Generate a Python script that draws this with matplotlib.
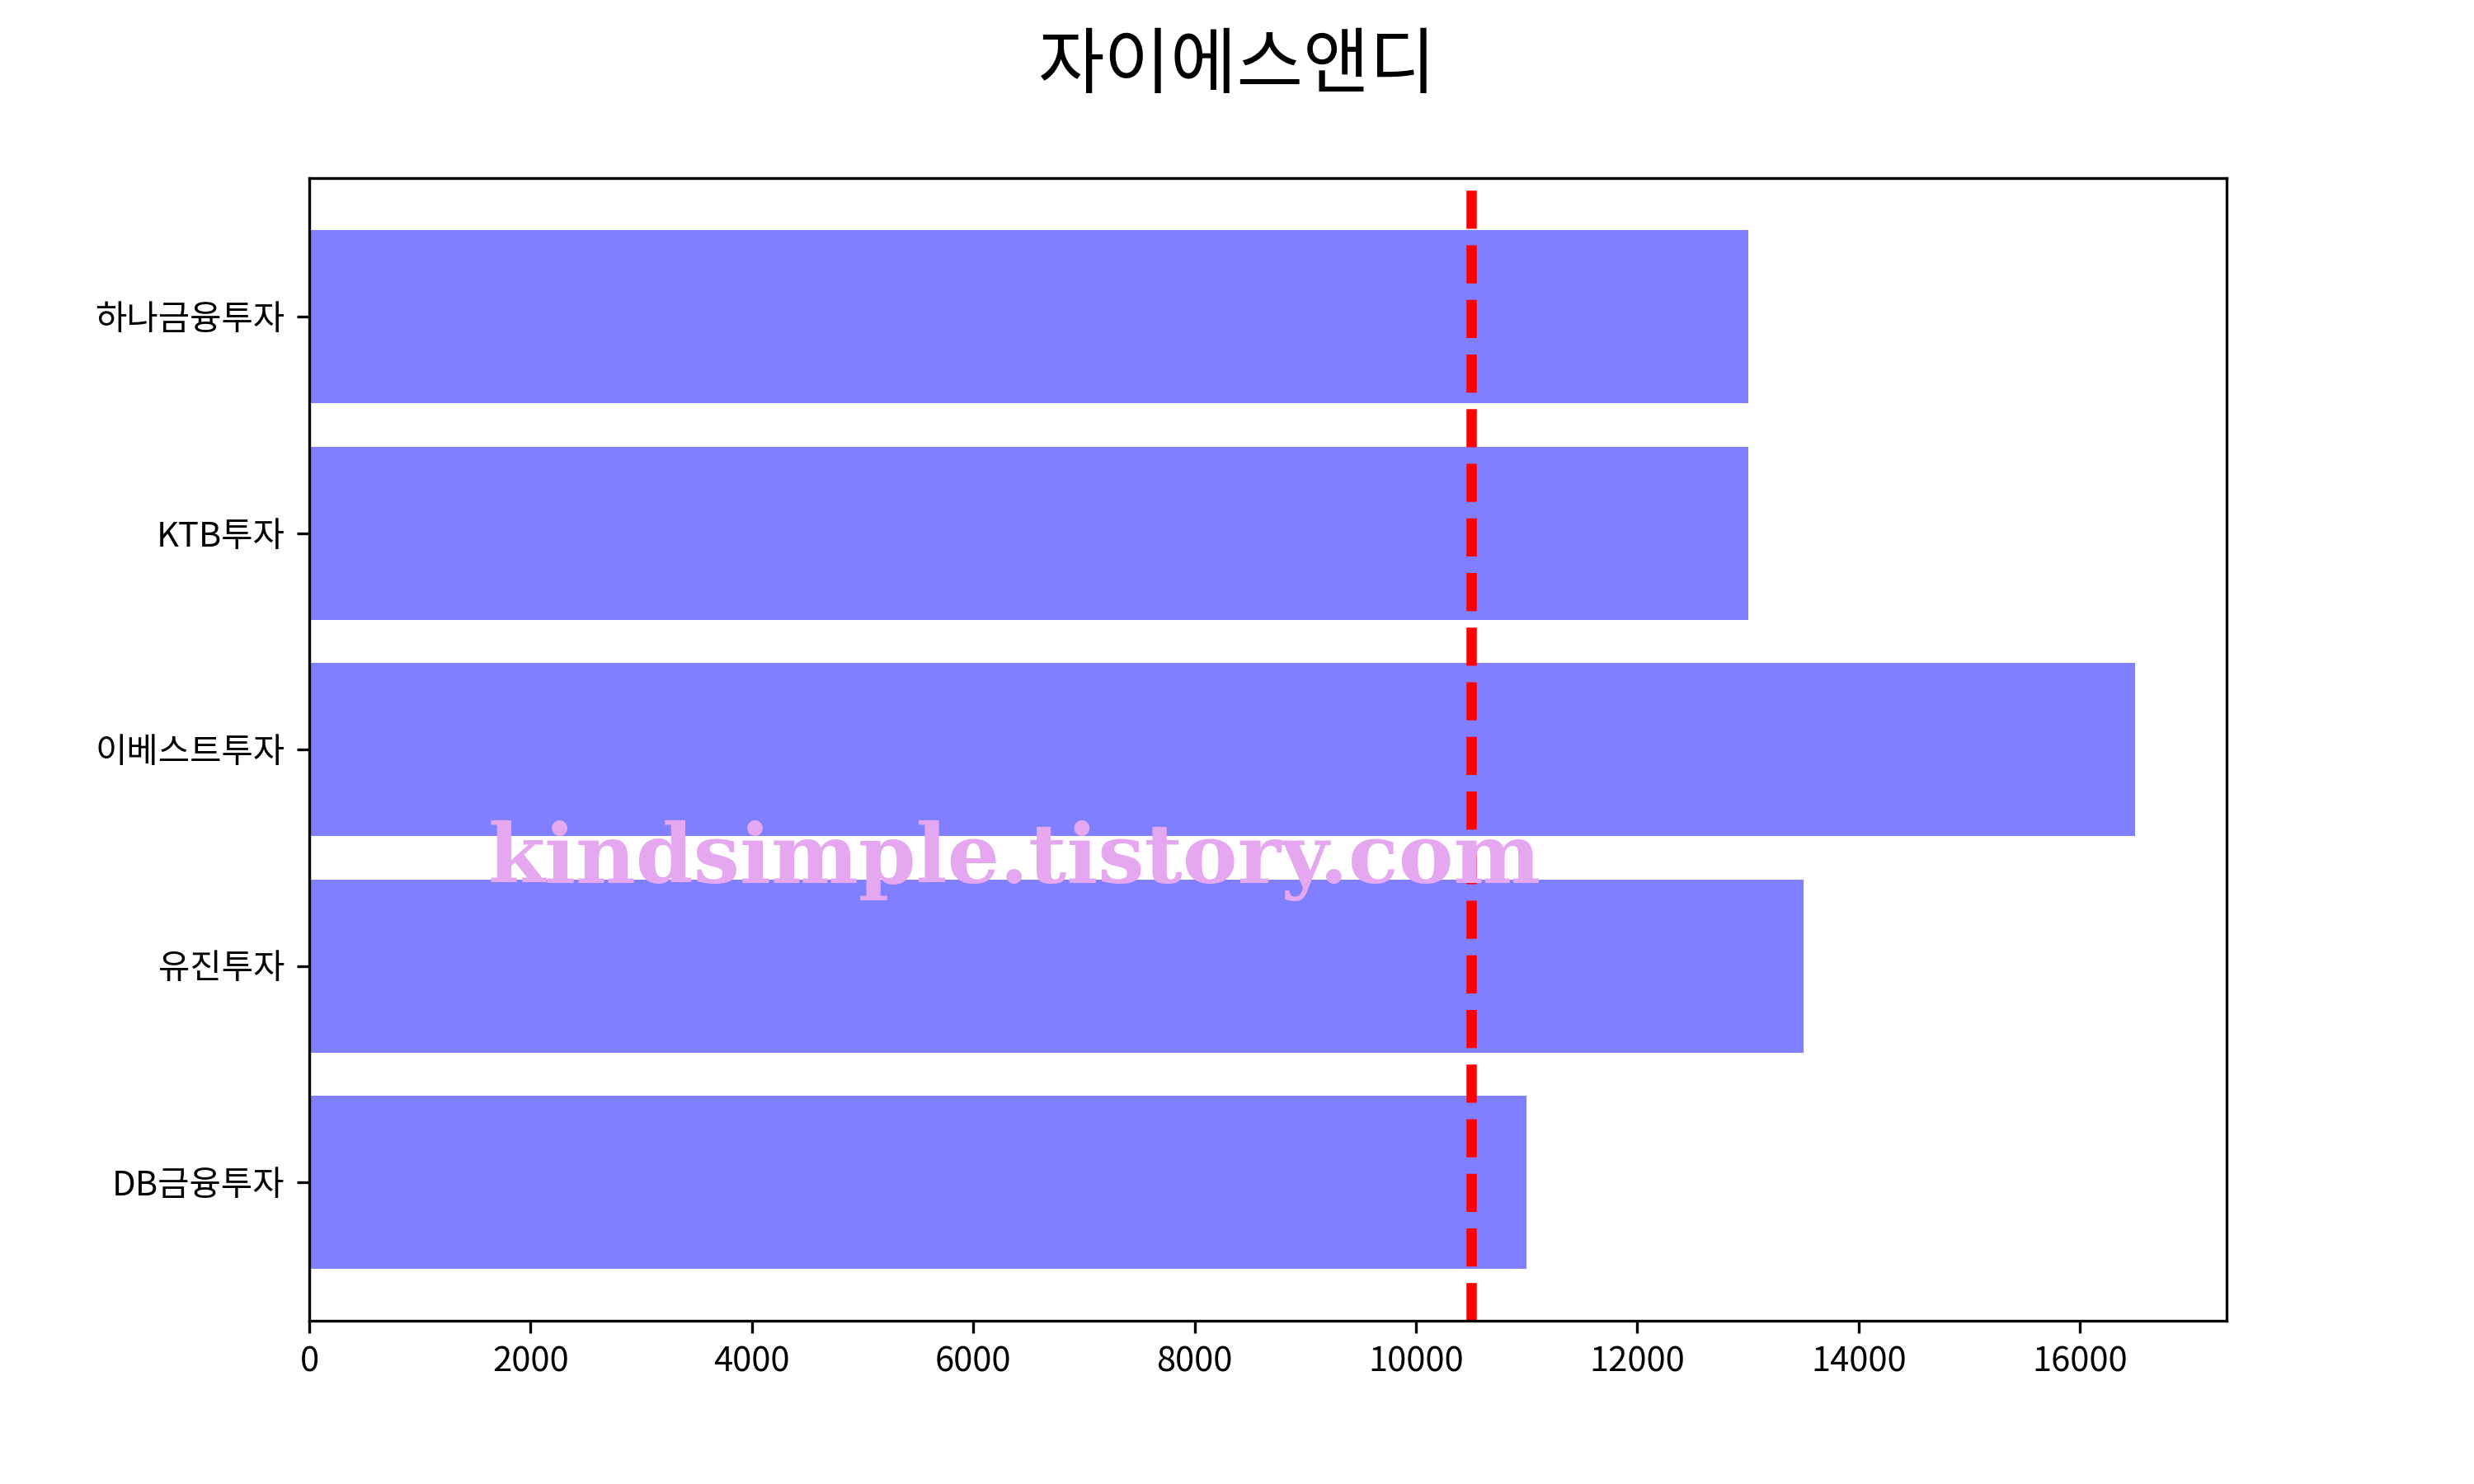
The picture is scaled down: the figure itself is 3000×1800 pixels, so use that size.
import matplotlib.pyplot as plt

plt.rcParams['font.family'] = ['Noto Sans CJK KR', 'DejaVu Sans']

companies = ['DB금융투자', '유진투자', '이베스트투자', 'KTB투자', '하나금융투자']
targets = [11000, 13500, 16500, 13000, 13000]
ref_price = 10500
title = '자이에스앤디'
watermark = 'kindsimple.tistory.com'

fig = plt.figure(figsize=(10, 6), dpi=300)
ax = fig.add_subplot(111)
ax.barh(companies, targets, color='blue', alpha=0.5)
ax.axvline(ref_price, color='red', linestyle='--', linewidth=3)
fig.suptitle(title, fontsize=21)

# watermark
fig.text(0.41, 0.405, watermark, ha='center', va='baseline',
         fontsize=24, color='#E5A8F0', family='DejaVu Serif', weight='bold')

fig.savefig('out.png')
